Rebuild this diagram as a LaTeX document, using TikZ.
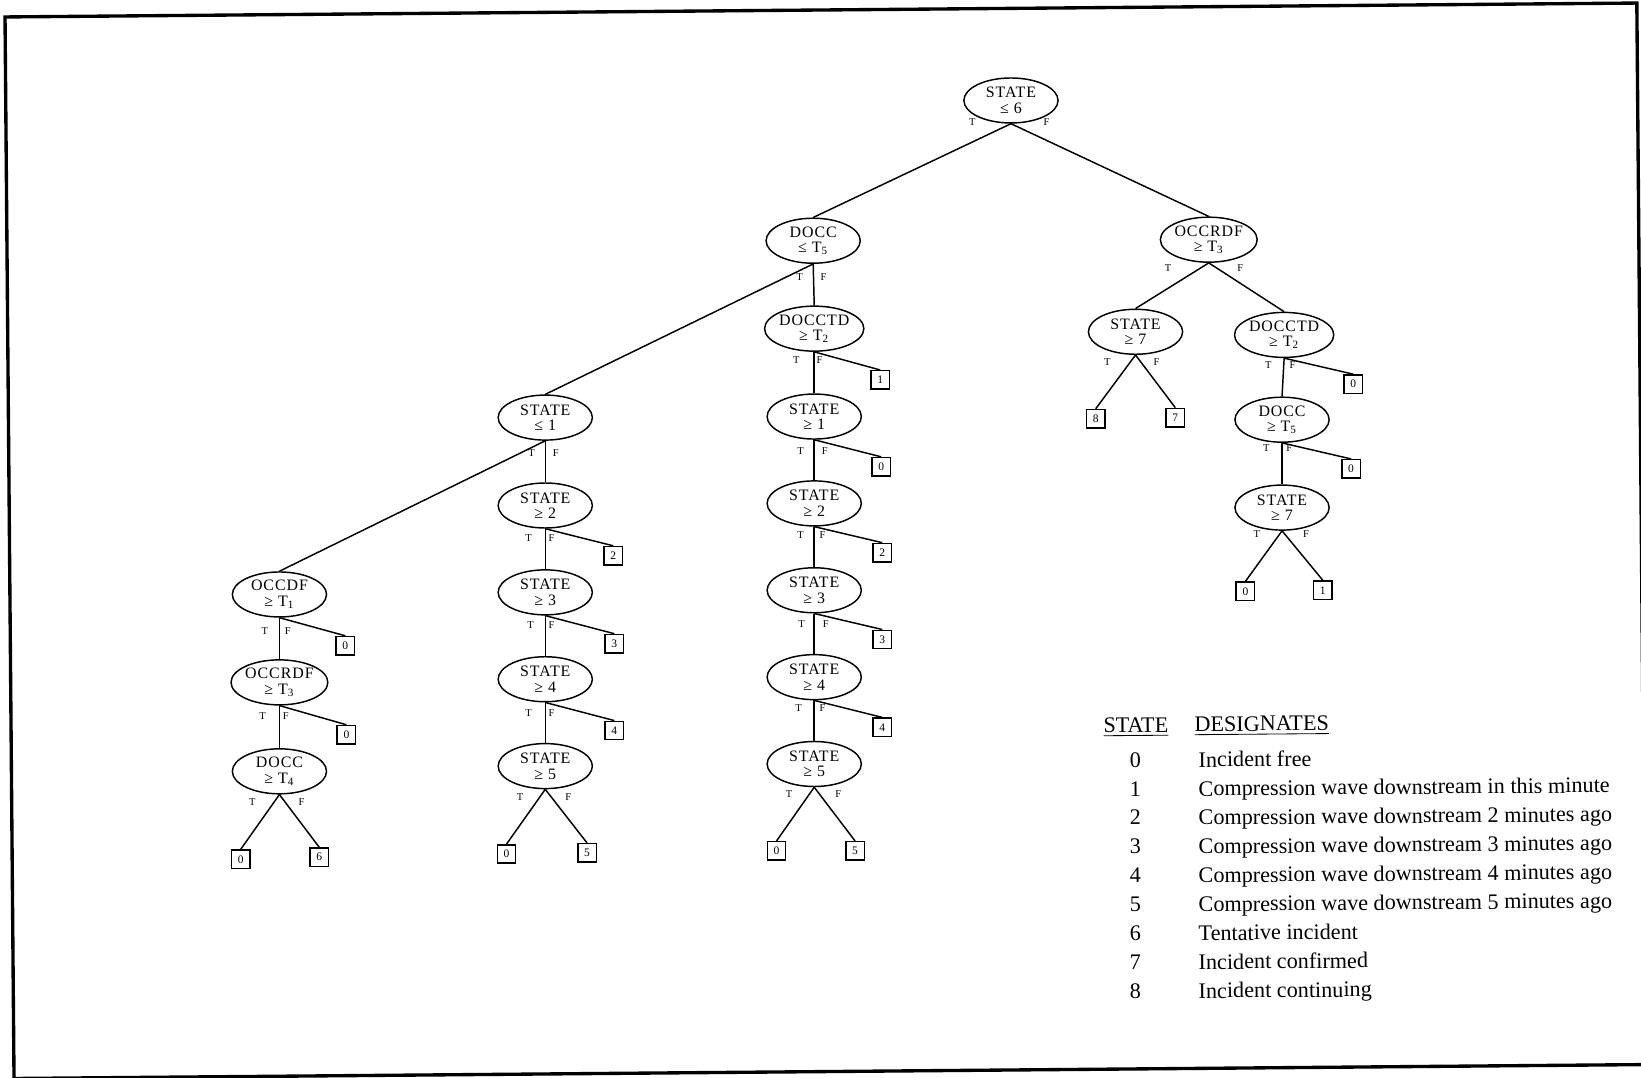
\documentclass[tikz,border=0pt]{standalone}
\usepackage{fontspec}
\setmainfont{Liberation Serif}
\newfontfamily\nodefont[LetterSpace=6]{Liberation Serif}
\usetikzlibrary{shapes.geometric}
\begin{document}
\begin{tikzpicture}[x=0.5pt,y=-0.5pt,
  test/.style={ellipse,draw,line width=0.7pt,minimum width=45pt,minimum height=21.5pt,
    inner sep=0pt,align=center,font=\nodefont\fontsize{7.6}{7.4}\selectfont},
  leaf/.style={draw,line width=0.7pt,minimum size=8.8pt,inner sep=0pt,
    font=\fontsize{5.5}{6}\selectfont},
  tf/.style={font=\fontsize{5}{5}\selectfont,inner sep=0pt},
  link/.style={line width=0.7pt},
  frame/.style={line width=1.6pt},
  legnum/.style={anchor=base,inner sep=0pt,font=\fontsize{10.6}{12}\selectfont,rotate=0.49},
  legtext/.style={anchor=base west,inner sep=0pt,font=\fontsize{10.6}{12}\selectfont,rotate=0.49}
]
\useasboundingbox (0,0) rectangle (1568,1030);
% page frame (slightly tilted)
\clip (0,0) rectangle (1568,1030);
\draw[frame] (4.8,16.2) -- (1564,2.9) -- (1572.6,1017.2) -- (13.4,1030.5) -- cycle;

% ---- decision nodes ----
\node[test] (r)  at (966,96)  {STATE\\≤ 6};
\node[test] (a)  at (777,230) {DOCC\\≤ T\textsubscript{5}};
\node[test] (b)  at (1155,229) {OCCRDF\\≥ T\textsubscript{3}};

\node[test] (a1) at (778,314) {DOCCTD\\≥ T\textsubscript{2}};
\node[test] (a2) at (778,398) {STATE\\≥ 1};
\node[test] (a3) at (778,481) {STATE\\≥ 2};
\node[test] (a4) at (778,564) {STATE\\≥ 3};
\node[test] (a5) at (778,647) {STATE\\≥ 4};
\node[test] (a6) at (778,730) {STATE\\≥ 5};

\node[test] (m)  at (521,399) {STATE\\≤ 1};
\node[test] (m1) at (521,483) {STATE\\≥ 2};
\node[test] (m2) at (521,566) {STATE\\≥ 3};
\node[test] (m3) at (521,649) {STATE\\≥ 4};
\node[test] (m4) at (521,732) {STATE\\≥ 5};

\node[test] (l)  at (267,568) {OCCDF\\≥ T\textsubscript{1}};
\node[test] (l1) at (267,652) {OCCRDF\\≥ T\textsubscript{3}};
\node[test] (l2) at (267,737) {DOCC\\≥ T\textsubscript{4}};

\node[test] (b1) at (1085,317) {STATE\\≥ 7};
\node[test] (b2) at (1227,320) {DOCCTD\\≥ T\textsubscript{2}};
\node[test] (b3) at (1225,401) {DOCC\\≥ T\textsubscript{5}};
\node[test] (b4) at (1225,485) {STATE\\≥ 7};

% ---- leaves ----
\node[leaf] (a1x) at (841,363) {1};
\node[leaf] (a2x) at (842,446) {0};
\node[leaf] (a3x) at (843,528) {2};
\node[leaf] (a4x) at (843,611) {3};
\node[leaf] (a5x) at (843,695) {4};
\node[leaf] (a6t) at (742,813) {0};
\node[leaf] (a6f) at (817,813) {5};

\node[leaf] (m1x) at (586,531) {2};
\node[leaf] (m2x) at (587,615) {3};
\node[leaf] (m3x) at (587,698) {4};
\node[leaf] (m4t) at (484,816) {0};
\node[leaf] (m4f) at (561,815) {5};

\node[leaf] (lx)  at (330,617) {0};
\node[leaf] (l1x) at (331,702) {0};
\node[leaf] (l2t) at (230,821) {0};
\node[leaf] (l2f) at (305,819) {6};

\node[leaf] (b1t) at (1047,400) {8};
\node[leaf] (b1f) at (1123,399) {7};
\node[leaf] (b2x) at (1293,367) {0};
\node[leaf] (b3x) at (1291,448) {0};
\node[leaf] (b4t) at (1190,565) {0};
\node[leaf] (b4f) at (1264,564) {1};

% ---- connectors ----
\draw[link] (r.south) -- (a.north);
\draw[link] (r.south) -- (b.north);
\draw[link] (a.south) -- (m.north);
\draw[link] (a.south) -- (a1.north);
\draw[link] (a1.south) -- (a2.north);
\draw[link] (a2.south) -- (a3.north);
\draw[link] (a3.south) -- (a4.north);
\draw[link] (a4.south) -- (a5.north);
\draw[link] (a5.south) -- (a6.north);
\draw[link] (a1.south) -- (a1x.north);
\draw[link] (a2.south) -- (a2x.north);
\draw[link] (a3.south) -- (a3x.north);
\draw[link] (a4.south) -- (a4x.north);
\draw[link] (a5.south) -- (a5x.north);
\draw[link] (a6.south) -- (a6t.north);
\draw[link] (a6.south) -- (a6f.north);

\draw[link] (m.south) -- (l.north);
\draw[link] (m.south) -- (m1.north);
\draw[link] (m1.south) -- (m2.north);
\draw[link] (m2.south) -- (m3.north);
\draw[link] (m3.south) -- (m4.north);
\draw[link] (m1.south) -- (m1x.north);
\draw[link] (m2.south) -- (m2x.north);
\draw[link] (m3.south) -- (m3x.north);
\draw[link] (m4.south) -- (m4t.north);
\draw[link] (m4.south) -- (m4f.north);

\draw[link] (l.south) -- (l1.north);
\draw[link] (l1.south) -- (l2.north);
\draw[link] (l.south) -- (lx.north);
\draw[link] (l1.south) -- (l1x.north);
\draw[link] (l2.south) -- (l2t.north);
\draw[link] (l2.south) -- (l2f.north);

\draw[link] (b.south) -- (b1.north);
\draw[link] (b.south) -- (b2.north);
\draw[link] (b1.south) -- (b1t.north);
\draw[link] (b1.south) -- (b1f.north);
\draw[link] (b2.south) -- (b3.north);
\draw[link] (b3.south) -- (b4.north);
\draw[link] (b2.south) -- (b2x.north);
\draw[link] (b3.south) -- (b3x.north);
\draw[link] (b4.south) -- (b4t.north);
\draw[link] (b4.south) -- (b4f.north);

% ---- true / false branch marks ----
\node[tf] (r-t)  at (929,117) {T};  \node[tf] (r-f)  at (1000,117) {F};
\node[tf] (a-t)  at (764,265) {T};  \node[tf] (a-f)  at (787,265) {F};
\node[tf] (b-t)  at (1116,256) {T}; \node[tf] (b-f)  at (1185,256) {F};
\node[tf] (a1-t) at (761,344) {T};  \node[tf] (a1-f) at (783,344) {F};
\node[tf] (a2-t) at (765,431) {T};  \node[tf] (a2-f) at (788,431) {F};
\node[tf] (a3-t) at (765,511) {T};  \node[tf] (a3-f) at (786,511) {F};
\node[tf] (a4-t) at (766,596) {T};  \node[tf] (a4-f) at (789,596) {F};
\node[tf] (a5-t) at (763,677) {T};  \node[tf] (a5-f) at (786,677) {F};
\node[tf] (a6-t) at (754,759) {T};  \node[tf] (a6-f) at (801,759) {F};
\node[tf] (m-t)  at (508,433) {T};  \node[tf] (m-f)  at (531,433) {F};
\node[tf] (m1-t) at (505,514) {T};  \node[tf] (m1-f) at (527,514) {F};
\node[tf] (m2-t) at (507,597) {T};  \node[tf] (m2-f) at (527,597) {F};
\node[tf] (m3-t) at (505,681) {T};  \node[tf] (m3-f) at (527,681) {F};
\node[tf] (m4-t) at (497,762) {T};  \node[tf] (m4-f) at (543,762) {F};
\node[tf] (l-t)  at (253,603) {T};  \node[tf] (l-f)  at (275,603) {F};
\node[tf] (l1-t) at (251,684) {T};  \node[tf] (l1-f) at (273,684) {F};
\node[tf] (l2-t) at (241,766) {T};  \node[tf] (l2-f) at (288,766) {F};
\node[tf] (b1-t) at (1058,346) {T}; \node[tf] (b1-f) at (1105,346) {F};
\node[tf] (b2-t) at (1212,349) {T}; \node[tf] (b2-f) at (1235,349) {F};
\node[tf] (b3-t) at (1210,428) {T}; \node[tf] (b3-f) at (1232,428) {F};
\node[tf] (b4-t) at (1201,510) {T}; \node[tf] (b4-f) at (1248,510) {F};

% ---- legend ----
\node[legtext] (hs) at (1054,700) {\underline{STATE}};
\node[legtext] (hd) at (1141,699) {\underline{DESIGNATES}};
\foreach \n/\txt [count=\i from 0] in {
  0/Incident free,
  1/Compression wave downstream in this minute,
  2/Compression wave downstream 2 minutes ago,
  3/Compression wave downstream 3 minutes ago,
  4/Compression wave downstream 4 minutes ago,
  5/Compression wave downstream 5 minutes ago,
  6/Tentative incident,
  7/Incident confirmed,
  8/Incident continuing}{
  \node[legnum] (ln\i) at (1085,733+27.6*\i) {\n};
  \node[legtext] (lt\i) at (1145,733+27.6*\i) {\txt};
}
\end{tikzpicture}
\end{document}
